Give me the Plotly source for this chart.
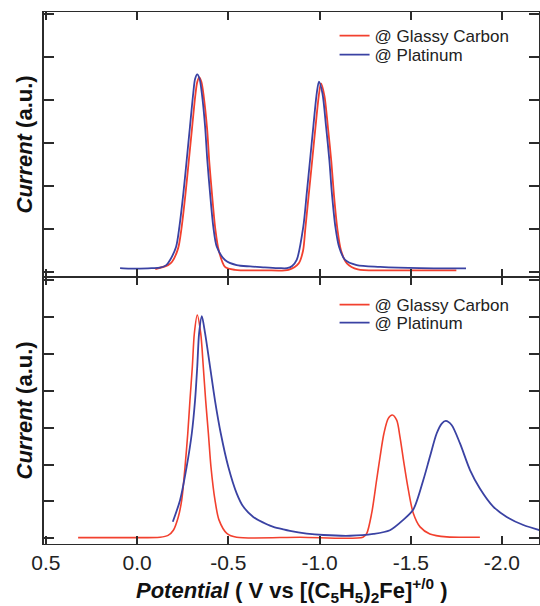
import plotly.graph_objects as go

# ---------------- data ----------------
# Top panel: Glassy Carbon (red) and Platinum (blue)
top_gc_v = [-0.10, -0.17, -0.192, -0.225, -0.243, -0.265, -0.283, -0.301, -0.319, -0.330, -0.341,
            -0.353, -0.365, -0.384, -0.396, -0.411, -0.429, -0.448, -0.482, -0.537, -0.70, -0.83,
            -0.886, -0.910, -0.922, -0.941, -0.959, -0.977, -0.996, -1.008, -1.027, -1.047,
            -1.065, -1.079, -1.098, -1.118, -1.150, -1.210, -1.40, -1.75]
top_gc_i = [0.07, 0.16, 0.24, 0.55, 1.0, 1.80, 2.56, 3.33, 4.10, 4.42, 4.53,
            4.42, 4.10, 3.33, 2.56, 1.80, 1.0, 0.50, 0.12, 0.05, 0.04, 0.05,
            0.20, 0.50, 1.0, 1.80, 2.56, 3.33, 4.10, 4.39, 4.10, 3.33,
            2.56, 1.80, 1.0, 0.50, 0.20, 0.06, 0.04, 0.04]

top_pt_v = [0.093, 0.04, -0.016, -0.08, -0.126, -0.16, -0.181, -0.214, -0.232, -0.254, -0.272,
            -0.290, -0.308, -0.318, -0.330, -0.343, -0.355, -0.373, -0.385, -0.400, -0.418,
            -0.437, -0.482, -0.546, -0.62, -0.70, -0.78, -0.822, -0.850, -0.875, -0.911,
            -0.930, -0.948, -0.966, -0.985, -0.997, -1.016, -1.036, -1.054, -1.068, -1.087,
            -1.107, -1.140, -1.204, -1.332, -1.551, -1.803]
top_pt_i = [0.09, 0.08, 0.08, 0.09, 0.10, 0.16, 0.28, 0.59, 1.05, 1.84, 2.60,
            3.38, 4.16, 4.49, 4.60, 4.49, 4.16, 3.38, 2.60, 1.84, 1.05,
            0.59, 0.28, 0.16, 0.13, 0.11, 0.09, 0.09, 0.14, 0.28, 1.05,
            1.83, 2.60, 3.38, 4.16, 4.43, 4.16, 3.38, 2.60, 1.83, 1.05,
            0.59, 0.28, 0.16, 0.12, 0.09, 0.086]

# Bottom panel
bot_gc_v = [0.323, 0.093, -0.126, -0.170, -0.199, -0.226, -0.245, -0.263, -0.278, -0.290, -0.303,
            -0.314, -0.330, -0.349, -0.363, -0.376, -0.391, -0.405, -0.427, -0.449, -0.492,
            -0.546, -0.893, -1.238, -1.259, -1.286, -1.313, -1.332, -1.353, -1.377, -1.399,
            -1.423, -1.441, -1.463, -1.487, -1.514, -1.551, -1.605, -1.697, -1.879]
bot_gc_i = [0.02, 0.02, 0.03, 0.08, 0.22, 0.58, 1.04, 1.94, 2.84, 3.74, 4.65,
            5.55, 6.05, 5.55, 4.65, 3.74, 2.84, 1.94, 1.04, 0.50, 0.135,
            0.03, 0.03, 0.03, 0.135, 0.68, 1.58, 2.21, 2.84, 3.25, 3.34,
            3.20, 2.75, 2.03, 1.31, 0.68, 0.31, 0.12, 0.04, 0.03]

bot_pt_v = [-0.196, -0.236, -0.272, -0.300, -0.318, -0.330, -0.340, -0.355, -0.373, -0.400,
            -0.427, -0.459, -0.500, -0.546, -0.582, -0.637, -0.711, -0.747, -0.802, -0.838,
            -0.930, -1.021, -1.167, -1.295, -1.386, -1.459, -1.514, -1.569, -1.605, -1.642,
            -1.670, -1.692, -1.724, -1.770, -1.825, -1.879, -1.952, -2.026, -2.117, -2.208]
bot_pt_i = [0.45, 1.04, 1.94, 2.84, 3.74, 4.65, 5.55, 6.02, 5.55, 4.65,
            3.74, 2.84, 1.94, 1.22, 0.86, 0.58, 0.38, 0.31, 0.24, 0.20,
            0.13, 0.09, 0.07, 0.12, 0.22, 0.50, 0.78, 1.58, 2.21, 2.84,
            3.11, 3.18, 3.07, 2.57, 1.85, 1.35, 0.86, 0.58, 0.36, 0.22]

x_tickvals = [0.5, 0.0, -0.5, -1.0, -1.5, -2.0]
x_ticktext = ["0.5", "0.0", "-0.5", "-1.0", "-1.5", "-2.0"]
top_yticks = [0, 1, 2, 3, 4, 5, 6]
bot_yticks = [0, 1, 2, 3, 4, 5, 6, 7]
series_names = ["@ Glassy Carbon", "@ Platinum"]
y_title = "<b><i>Current</i> (a.u.)</b>"
x_title = "<b><i>Potential</i> ( V vs [(C<sub>5</sub>H<sub>5</sub>)<sub>2</sub>Fe]<sup>+/0</sup> )</b>"

RED = "#f2402e"
BLUE = "#3a42a3"
AX = "#2b2b2b"
FONT = "Liberation Sans, Arial, sans-serif"

fig = go.Figure()
common = dict(mode="lines", line_shape="spline", showlegend=True)
fig.add_trace(go.Scatter(x=top_gc_v, y=top_gc_i, name=series_names[0], xaxis="x2", yaxis="y2",
                         line=dict(color=RED, width=1.8, smoothing=0.8), legend="legend2", **common))
fig.add_trace(go.Scatter(x=top_pt_v, y=top_pt_i, name=series_names[1], xaxis="x2", yaxis="y2",
                         line=dict(color=BLUE, width=1.8, smoothing=0.8), legend="legend3", **common))
fig.add_trace(go.Scatter(x=bot_gc_v, y=bot_gc_i, name=series_names[0], xaxis="x", yaxis="y",
                         line=dict(color=RED, width=1.6, smoothing=0.8), legend="legend4", **common))
fig.add_trace(go.Scatter(x=bot_pt_v, y=bot_pt_i, name=series_names[1], xaxis="x", yaxis="y",
                         line=dict(color=BLUE, width=1.8, smoothing=0.8), legend="legend5", **common))

xrange = [0.51, -2.203]
xcommon = dict(range=xrange, tickvals=x_tickvals, ticks="inside", ticklen=8, tickwidth=1.5,
               tickcolor=AX, showline=True, linecolor=AX, linewidth=1.2, mirror="ticks",
               showgrid=False, zeroline=False, automargin=False)
ycommon = dict(ticks="inside", ticklen=10, tickwidth=1.5, tickcolor=AX, showline=True,
               linecolor=AX, linewidth=1.8, mirror="ticks", showgrid=False, zeroline=False,
               showticklabels=False, automargin=False)

split = 267 / 532
legend_font = dict(family=FONT, size=17, color="#222")
title_font = dict(family=FONT, size=22, color="#111")


def leg(ypos):
    return dict(x=0.587, y=ypos, xanchor="left", yanchor="top", bgcolor="rgba(0,0,0,0)",
                font=legend_font, tracegroupgap=0, itemwidth=30)


fig.update_layout(
    width=540, height=606,
    margin=dict(l=44, r=1, t=12, b=62),
    paper_bgcolor="white", plot_bgcolor="white",
    font=dict(family=FONT, color="#222"),
    showlegend=True,
    xaxis=dict(domain=[0, 1], anchor="y", ticktext=x_ticktext, showticklabels=True,
               tickfont=dict(family=FONT, size=21, color="#222"), **xcommon),
    xaxis2=dict(domain=[0, 1], anchor="y2", showticklabels=False, **xcommon),
    yaxis=dict(domain=[0, split], range=[-0.154, 7.08], tickvals=bot_yticks, **ycommon),
    yaxis2=dict(domain=[split, 1], range=[-0.116, 6.05], tickvals=top_yticks, **ycommon),
    legend2=leg(0.9887),
    legend3=leg(0.953),
    legend4=leg(0.483),
    legend5=leg(0.449),
    annotations=[
        dict(text=y_title, xref="paper", yref="paper", x=0, y=(1 + split) / 2, xanchor="center",
             yanchor="middle", xshift=-20, textangle=-90, showarrow=False, font=title_font),
        dict(text=y_title, xref="paper", yref="paper", x=0, y=split / 2, xanchor="center",
             yanchor="middle", xshift=-20, textangle=-90, showarrow=False, font=title_font),
        dict(text=x_title, xref="paper", yref="paper", x=0.5, y=0, xanchor="center",
             yanchor="middle", yshift=-46, showarrow=False, font=title_font),
    ],
)

fig.write_html("out.html", config={"displayModeBar": False},
               post_script="document.body.style.margin='0';")
